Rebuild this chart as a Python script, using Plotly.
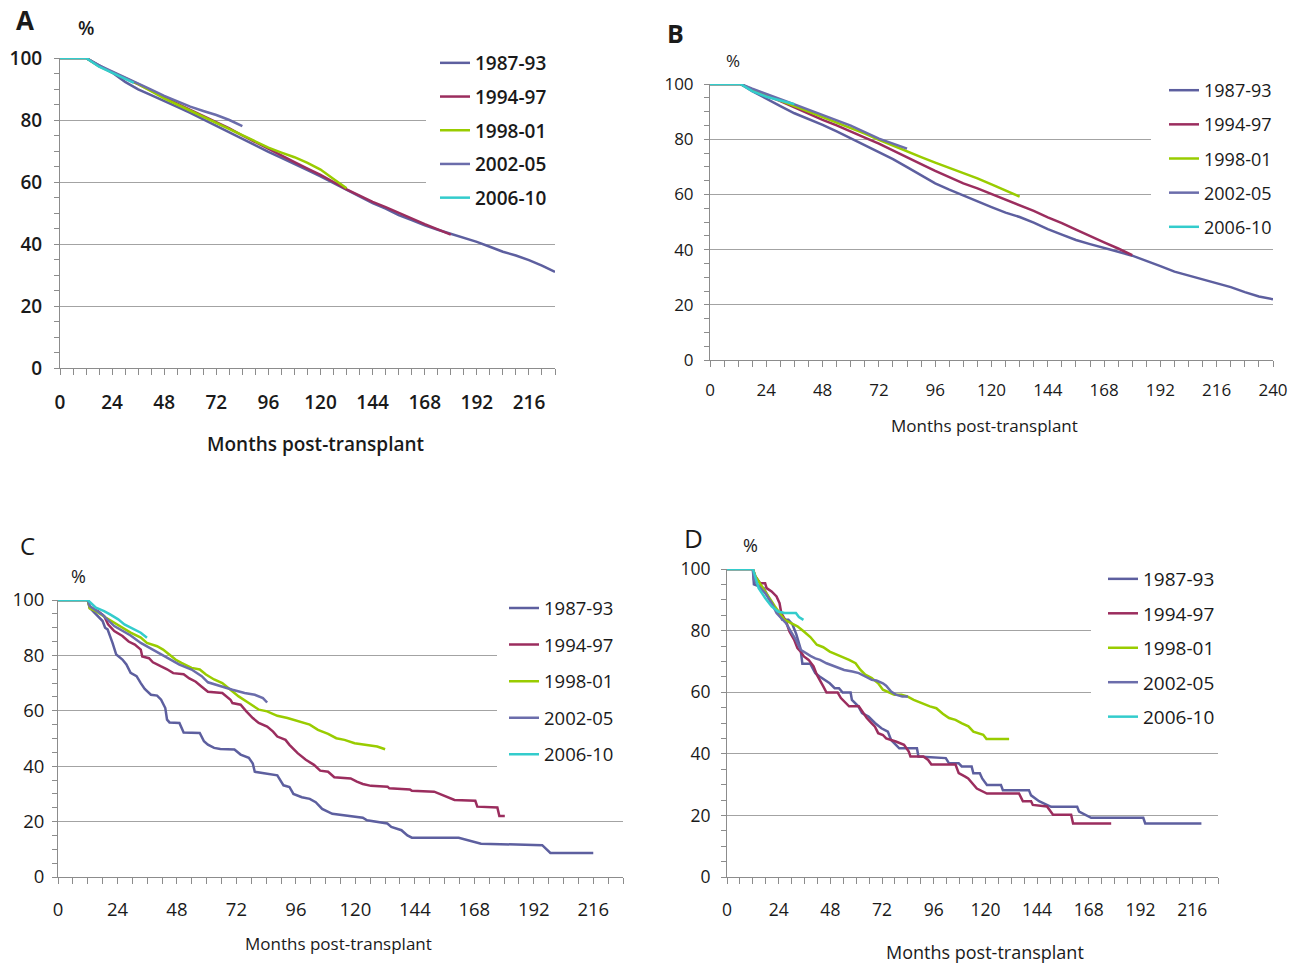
import plotly.graph_objects as go

W, H = 1301, 963

SERIES = ["1987-93", "1994-97", "1998-01", "2002-05", "2006-10"]
COLORS = ["#5d5f9f", "#9b2d5e", "#99cc00", "#6b6dab", "#33cccc"]
X_TITLE = "Months post-transplant"
Y_UNIT = "%"

# ---------------- Panel A ----------------
A_1987_m = [0, 12] + list(range(18, 229, 6))
A_1987_v = [100, 100, 97.6, 95.3, 92.3, 89.9, 88.0, 86.2, 84.2, 82.3, 80.2, 78.2,
            76.0, 73.8, 71.8, 69.7, 67.8, 65.9, 63.8, 61.8, 59.6, 57.4, 55.4, 53.2,
            51.4, 49.3, 47.7, 46.0, 44.6, 43.3, 42.0, 40.7, 39.1, 37.5, 36.3, 34.8,
            33.0, 31.0]
A_1994_m = [0, 12] + list(range(18, 181, 6))
A_1994_v = [100, 100, 97.4, 95.5, 93.5, 91.6, 89.5, 87.3, 85.3, 83.3, 81.3, 79.5,
            77.3, 75.0, 72.8, 70.7, 68.5, 66.4, 64.3, 62.3, 60.0, 57.6, 55.6, 53.6,
            51.9, 50.0, 48.2, 46.4, 44.7, 43.0]
A_1998_m = [0, 12] + list(range(18, 133, 6))
A_1998_v = [100, 100, 97.4, 95.5, 93.4, 91.6, 89.3, 87.0, 85.0, 83.0, 81.0, 79.0,
            76.9, 74.9, 73.0, 71.1, 69.5, 68.0, 66.2, 64.0, 61.0, 58.0]
A_2002_m = [0, 12] + list(range(18, 85, 6))
A_2002_v = [100, 100, 97.6, 95.7, 93.6, 91.8, 89.8, 87.8, 86.0, 84.3, 82.9, 81.6,
            80.0, 78.0]
A_2006_m = [0, 12, 18, 24, 30, 34]
A_2006_v = [100, 100, 97.2, 95.3, 93.4, 92.0]

# ---------------- Panel B ----------------
B_1987_m = [0, 13] + list(range(18, 241, 6))
B_1987_v = [100, 100, 97.4, 94.6, 92.0, 89.4, 87.3, 85.2, 82.8, 80.3, 77.6, 75.3,
            72.8, 69.9, 66.9, 64.0, 61.7, 59.5, 57.4, 55.4, 53.4, 51.8,
            49.8, 47.4, 45.4, 43.5, 42.0, 40.5, 39.2, 37.8, 36.0, 34.0,
            32.0, 30.6, 29.4, 28.0, 26.4, 24.6, 23.0, 22.0]
B_1994_m = [0, 13] + list(range(18, 181, 6))
B_1994_v = [100, 100, 98.0, 96.0, 93.8, 91.5, 89.2, 87.0, 85.0, 82.9, 80.6, 78.4,
            76.0, 73.5, 71.0, 68.5, 66.2, 64.0, 62.2, 60.2, 58.2, 56.2,
            54.0, 51.7, 49.6, 47.2, 44.8, 42.6, 40.4, 38.0]
B_1998_m = [0, 13] + list(range(18, 133, 6))
B_1998_v = [100, 100, 98.0, 96.0, 94.0, 92.0, 90.0, 88.2, 86.2, 84.2, 82.0, 79.8,
            77.6, 75.5, 73.5, 71.5, 69.6, 67.8, 65.8, 63.6, 61.4, 59.2]
B_2002_m = [0, 13] + list(range(18, 85, 6))
B_2002_v = [100, 100, 98.3, 96.5, 94.5, 92.6, 90.7, 88.9, 87.0, 84.9, 82.6, 80.2,
            78.4, 76.6]
B_2006_m = [0, 13, 18, 24, 30, 36]
B_2006_v = [100, 100, 97.4, 95.4, 94.0, 92.7]

# ---------------- Panel C ----------------
C_1987_m = [0, 12, 13, 15, 18, 19, 20, 22, 23.5, 26, 27.6, 29.3, 31.7, 33.4, 35, 37.5,
            40, 41.6, 43.3, 44, 45, 49, 50.7, 57.2, 58.9, 60.5, 63, 65.5, 71.2, 73.7,
            77, 78.6, 79.4, 88.5, 91, 93.4, 95, 98.4, 101.6, 104, 106.6, 110.7, 116.4,
            123, 124.7, 129.6, 132.9, 134.5, 138.6, 141, 142.8, 161.7, 165.8, 170.7,
            195.4, 197, 198.7, 216]
C_1987_v = [100, 100, 97, 95.2, 92.4, 90, 89.4, 84.5, 80.3, 78.5, 76.7, 73.7, 72.5, 70,
            67.9, 65.8, 65.5, 64, 61, 56.8, 55.8, 55.6, 52.2, 52, 49, 47.8, 46.6, 46.2,
            46, 44.2, 43, 41, 38, 36.7, 33.1, 32.5, 30, 28.8, 28.2, 27, 24.6, 22.8,
            22.2, 21.4, 20.5, 19.9, 19.3, 18.1, 16.9, 15, 14.2, 14.2, 13.3, 12, 11.5,
            10.3, 8.7, 8.7]
C_1994_m = [0, 12, 12.8, 16.1, 18.6, 20.2, 22.7, 26, 28.5, 31, 33.4, 34, 36.7, 38.3,
            41.6, 44, 46.5, 50.7, 53, 55.6, 58, 60.5, 66.3, 69.6, 70.4, 73.7, 76, 78.6,
            81, 84.4, 86.8, 88.5, 91.8, 93.4, 96.7, 100, 103.3, 105.8, 109, 111.5,
            118.1, 120.6, 123, 126.3, 133, 133.7, 142, 142.8, 151.8, 155, 158.6, 160,
            168.4, 169.2, 177.3, 178.1, 180.3]
C_1994_v = [100, 100, 97.2, 96, 94.2, 91.2, 88.8, 87, 85, 83.9, 82.1, 79.6, 79, 77.5,
            76, 75, 73.6, 73.2, 71.7, 70.5, 68.7, 66.9, 66.4, 64, 62.8, 62.2, 59.8,
            57.4, 55.6, 54.3, 52.5, 50.7, 49.5, 47.7, 44.7, 42.3, 40.5, 38.4, 38, 36,
            35.6, 34.4, 33.6, 32.9, 32.6, 32, 31.6, 31.1, 30.8, 29.6, 28.4, 27.8, 27.5,
            25.4, 25.1, 22, 22]
C_1998_m = [0, 12, 12.8, 15.3, 19.4, 22.7, 26, 29.3, 33.4, 35.9, 40, 42.4, 44.9, 47.4,
            49.8, 53.9, 57.2, 59.7, 63, 66.3, 69.6, 72.9, 77, 81.1, 84.4, 88.5, 92.6,
            96.7, 101.6, 104.9, 109, 112.3, 115.6, 119.7, 124.7, 128.8, 132]
C_1998_v = [100, 100, 97, 96, 93.6, 91.8, 90, 88.2, 86.4, 84.5, 83.3, 82.1, 80.3, 78.5,
            77.3, 75.5, 74.9, 73.1, 71.3, 70, 67.6, 65.2, 62.8, 60.4, 59.8, 58.2, 57.4,
            56.2, 55, 53.1, 51.7, 50.1, 49.5, 48.3, 47.7, 47.1, 46.1]
C_2002_m = [0, 12, 12.8, 17.8, 22.7, 26, 29.3, 33.4, 37.5, 41.6, 45.7, 49, 53.9, 58,
            60.5, 65.5, 70.4, 75.3, 79.4, 82.7, 84.4]
C_2002_v = [100, 100, 97.8, 94.8, 90.6, 88.8, 87.2, 84.5, 82.4, 80.3, 78.1, 76.7, 74.9,
            72.5, 70.3, 68.8, 67.6, 66.4, 65.8, 64.6, 63]
C_2006_m = [0, 12, 15.3, 18.6, 21, 24.3, 26.8, 30.1, 33.4, 35.9]
C_2006_v = [100, 100, 97.2, 96, 94.8, 93, 91.2, 89.6, 88.2, 86.4]

# ---------------- Panel D ----------------
D_1987_m = [0, 12, 12.5, 17, 19, 21, 23.8, 25.7, 28.5, 30.4, 32.2, 34.1, 35, 38.7, 41,
            43, 47.7, 50, 52, 53.7, 57.4, 58, 61, 62.7, 65.7, 68.7, 71.7, 74.7, 76.2,
            80, 88.2, 88.9, 101.6, 103.1, 107.6, 109, 113.6, 114.4, 117.4, 118.5,
            120.7, 127.2, 128.1, 140.2, 141.2, 144.9, 150.5, 162.6, 163.5, 169.1,
            193.3, 194.2, 220.3]
D_1987_v = [100, 100, 95, 93.8, 91.1, 88.4, 85.7, 83.5, 83.5, 82, 78.8, 74.3, 69.2,
            69.2, 66.2, 65.1, 62.9, 61.3, 61.3, 59.9, 59.9, 57.5, 55.4, 53.2, 52.1, 50,
            48.3, 47.2, 44.5, 41.8, 41.8, 39.1, 38.6, 36.9, 36.9, 35.9, 35.9, 33.7,
            33.7, 32, 29.9, 29.9, 28.2, 28.2, 26.5, 24.6, 22.8, 22.8, 21.2, 19.2, 19.2,
            17.4, 17.4]
D_1994_m = [0, 12, 13.2, 15.4, 17.7, 18.4, 20.7, 23, 24.4, 25.2, 27.4, 29, 31.2, 32.7,
            34.2, 35.7, 37.9, 40.2, 41.7, 43.2, 44.7, 46.2, 51.4, 52.9, 55.2, 56.7,
            61.2, 62.7, 64.9, 67.2, 68.7, 70.2, 72.4, 73.9, 76.2, 78.4, 82.2, 84.4,
            85.2, 91.2, 93.4, 94.9, 106.1, 107.6, 110.6, 112, 116, 120.7, 135.6, 137.4,
            141.2, 142, 148.6, 151.4, 159.8, 160.7, 178.4]
D_1994_v = [100, 100, 97.6, 95.4, 95.4, 93.8, 92.7, 91.1, 88.9, 85.7, 83, 79.7, 77,
            74.3, 73.2, 71.6, 70.5, 68.4, 65.7, 64, 61.9, 59.9, 59.9, 58.1, 56.4, 55.4,
            55.4, 53.7, 51.6, 49.9, 48.8, 46.7, 46.1, 45, 44.5, 44, 42.9, 40.7, 39.1,
            39.1, 38, 36.5, 36.5, 33.7, 32.6, 32, 28.7, 27.1, 27.1, 24.6, 24.6, 23.4,
            22.9, 20.2, 20.2, 17.4, 17.4]
D_1998_m = [0, 12, 13.2, 17.7, 22.2, 26.7, 29.7, 32.7, 35.7, 38.7, 41.7, 44.7, 47.7,
            50.7, 53.7, 56.7, 59.7, 61.9, 64.2, 67.2, 70.2, 72.4, 74.7, 77.7, 81, 83.7,
            86.7, 90.4, 94.2, 97.2, 100.2, 103.1, 106.1, 109.1, 112.1, 114.4, 116.6,
            119, 120.5, 131]
D_1998_v = [100, 100, 97.6, 92.7, 87.9, 83.5, 82.4, 81.4, 79.7, 77.9, 75.4, 74.6, 73.2,
            72.2, 71.4, 70.5, 69.4, 67.3, 65.7, 64.6, 62.9, 60.8, 60.2, 59.2, 59.2,
            58.6, 57.5, 56.4, 55.4, 54.8, 53, 51.6, 51, 49.9, 48.9, 47.2, 46.7, 46.2,
            44.8, 44.8]
D_2002_m = [0, 12, 12.5, 14.7, 17.7, 20.7, 23, 25.2, 27.4, 29.7, 32, 34.2, 36.4, 38.7,
            41, 43.2, 46.2, 49.9, 54.4, 58.2, 61.2, 64.2, 67.2, 69.4, 72.4, 73.9, 76.2,
            78.4, 81.4, 84]
D_2002_v = [100, 100, 96.5, 94.4, 92.2, 89, 85.7, 84.1, 82.4, 79.7, 77, 73.8, 72.7,
            71.8, 71, 70.5, 69.4, 68.3, 67.2, 66.7, 66.2, 65.1, 64, 63.8, 62.9, 62.1,
            60.2, 59.2, 58.6, 58.6]
D_2006_m = [0, 12, 14.7, 17.7, 20.7, 23.7, 26.7, 32, 33.4, 35.5]
D_2006_v = [100, 100, 93.8, 90.6, 87.9, 86.2, 85.7, 85.7, 84.4, 83.5]

X_TICKS_A = list(range(0, 217, 24))
X_TICKS_B = list(range(0, 241, 24))
Y_TICKS = [0, 20, 40, 60, 80, 100]

FONT = "Open Sans"
INK = "#1a1a1a"
AXC = "#8c8c8c"
GRID = "#a3a3a3"


def px_x(p):
    return p / W


def px_y(p):
    return 1 - p / H


panels = [
    dict(letter="A", ax="", legend="legend",
         data=[(A_1987_m, A_1987_v), (A_1994_m, A_1994_v), (A_1998_m, A_1998_v),
               (A_2002_m, A_2002_v), (A_2006_m, A_2006_v)],
         box=(60, 555, 58, 368), xmax=228, xticks=X_TICKS_A,
         tick_size=19, weight=600, xstand=11, ystand=8,
         title=(315, 444, 19),
         leg=(426, 38, 6, 3, 6), leg_size=19,
         letter_pos=(25, 20, 26), pct_pos=(86, 28, 19)),
    dict(letter="B", ax="2", legend="legend2",
         data=[(B_1987_m, B_1987_v), (B_1994_m, B_1994_v), (B_1998_m, B_1998_v),
               (B_2002_m, B_2002_v), (B_2006_m, B_2006_v)],
         box=(710, 1273, 84, 360), xmax=240, xticks=X_TICKS_B,
         tick_size=17, weight=400, xstand=9, ystand=7,
         title=(984, 425, 17),
         leg=(1151, 69, 3, 10, 7.75), leg_size=18,
         letter_pos=(675, 33, 25), pct_pos=(733, 60, 17)),
    dict(letter="C", ax="3", legend="legend3",
         data=[(C_1987_m, C_1987_v), (C_1994_m, C_1994_v), (C_1998_m, C_1998_v),
               (C_2002_m, C_2002_v), (C_2006_m, C_2006_v)],
         box=(58, 623, 600, 877), xmax=228, xticks=X_TICKS_A,
         tick_size=18.5, weight=500, xstand=10, ystand=4,
         title=(338, 943, 17),
         leg=(497, 577.5, 12, -5, 9.5), leg_size=18.5,
         letter_pos=(27, 545, 24), pct_pos=(78, 576, 18)),
    dict(letter="D", ax="4", legend="legend4",
         data=[(D_1987_m, D_1987_v), (D_1994_m, D_1994_v), (D_1998_m, D_1998_v),
               (D_2002_m, D_2002_v), (D_2006_m, D_2006_v)],
         box=(727, 1218, 569, 877), xmax=228, xticks=X_TICKS_A,
         tick_size=17.5, weight=500, xstand=11, ystand=7,
         title=(985, 952, 18),
         leg=(1091, 552, 8, 4, 6.75), leg_size=19,
         letter_pos=(693, 538, 26), pct_pos=(750, 545, 18)),
]

fig = go.Figure()
annotations = []
layout = dict(width=W, height=H, margin=dict(l=0, r=0, t=0, b=0),
              paper_bgcolor="white", plot_bgcolor="white", showlegend=True,
              font=dict(family=FONT, color=INK))

for p in panels:
    xa = "x" + p["ax"]
    ya = "y" + p["ax"]
    for i, (m, v) in enumerate(p["data"]):
        fig.add_trace(go.Scatter(
            x=m, y=v, mode="lines", name=SERIES[i],
            line=dict(color=COLORS[i], width=2.5),
            xaxis=xa, yaxis=ya, legend=p["legend"],
            legendgroup=p["letter"] + SERIES[i], hoverinfo="skip"))
    x0, x1, y0, y1 = p["box"]
    tf = dict(family=FONT, size=p["tick_size"], color=INK, weight=p["weight"])
    layout["xaxis" + p["ax"]] = dict(
        domain=[px_x(x0), px_x(x1)], anchor=ya, range=[0, p["xmax"]],
        tickvals=p["xticks"], ticks="outside", ticklen=6, tickcolor=AXC,
        tickwidth=1, showline=True, linecolor=AXC, linewidth=1, showgrid=False,
        zeroline=False, tickfont=tf, ticklabelstandoff=int(p["xstand"]),
        minor=dict(dtick=6, tick0=0, ticks="outside", ticklen=6, tickcolor=AXC,
                   showgrid=False),
        automargin=False, fixedrange=True)
    layout["yaxis" + p["ax"]] = dict(
        domain=[px_y(y1), px_y(y0)], anchor=xa, range=[0, 100],
        tickvals=Y_TICKS, ticks="outside", ticklen=5, tickcolor=AXC, tickwidth=1,
        showline=True, linecolor=AXC, linewidth=1, showgrid=True,
        gridcolor=GRID, gridwidth=1, zeroline=False, tickfont=tf,
        ticklabelstandoff=int(p["ystand"]),
        minor=dict(dtick=5, tick0=0, ticks="outside", ticklen=5, tickcolor=AXC,
                   showgrid=False),
        automargin=False, fixedrange=True)
    lx, ly, bw, indent, gap = p["leg"]
    layout[p["legend"]] = dict(
        x=px_x(lx), y=px_y(ly), xanchor="left", yanchor="top",
        bgcolor="white", bordercolor="white", borderwidth=bw, indentation=indent,
        traceorder="grouped", tracegroupgap=gap,
        font=dict(family=FONT, size=p["leg_size"], color=INK, weight=p["weight"]))
    tx, ty, tsz = p["title"]
    annotations.append(dict(text=X_TITLE, x=px_x(tx), y=px_y(ty),
                            xref="paper", yref="paper", showarrow=False,
                            xanchor="center", yanchor="middle",
                            font=dict(family=FONT, size=tsz, color=INK,
                                      weight=p["weight"])))
    lxp, lyp, lsz = p["letter_pos"]
    annotations.append(dict(text=p["letter"], x=px_x(lxp), y=px_y(lyp),
                            xref="paper", yref="paper", showarrow=False,
                            xanchor="center", yanchor="middle",
                            font=dict(family=FONT, size=lsz, color=INK,
                                      weight=700 if p["letter"] in "AB" else 400)))
    pxp, pyp, psz = p["pct_pos"]
    annotations.append(dict(text=Y_UNIT, x=px_x(pxp), y=px_y(pyp),
                            xref="paper", yref="paper", showarrow=False,
                            xanchor="center", yanchor="middle",
                            font=dict(family=FONT, size=psz, color=INK,
                                      weight=p["weight"])))

layout["annotations"] = annotations
fig.update_layout(**layout)
fig.write_html("out.html",
               config={"displayModeBar": False},
               post_script="document.body.style.margin='0px';")
